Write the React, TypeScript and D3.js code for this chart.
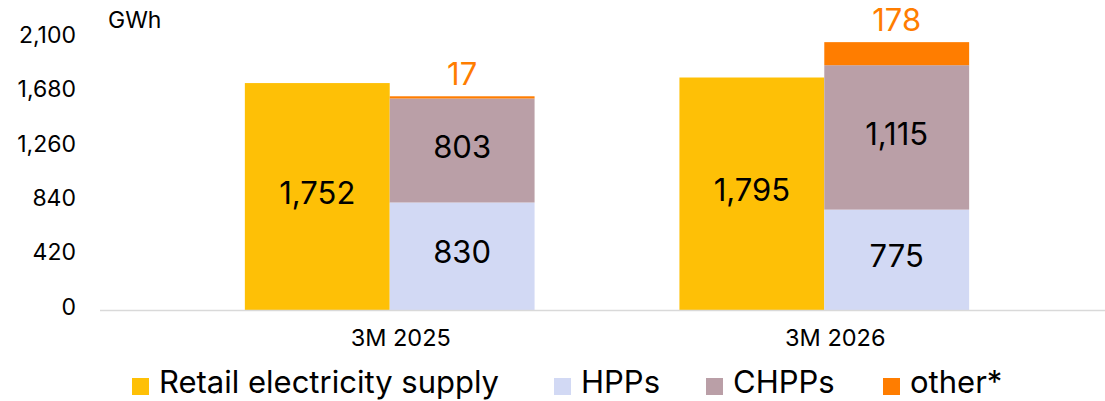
import React from 'react'
import * as d3 from 'd3'

const categories = ['3M 2025', '3M 2026']
const retail = [1752, 1795]
const hpps = [830, 775]
const chpps = [803, 1115]
const other = [17, 178]
const yTicks = [0, 420, 840, 1260, 1680, 2100]

const legendItems = [
    { name: 'Retail electricity supply', color: '#FEC006' },
    { name: 'HPPs', color: '#D2D9F4' },
    { name: 'CHPPs', color: '#BA9FA7' },
    { name: 'other*', color: '#FF7D00' }
]

const W = 1105
const H = 401
const FONT = 'Inter, "Noto Sans", sans-serif'

export default function App() {
    const x = d3.scaleBand<string>().domain(categories).range([100, 1114]).paddingInner(1 / 3).paddingOuter(1 / 3)
    const sub = d3.scaleBand<string>().domain(['retail', 'stack']).range([0, x.bandwidth()])
    const y = d3.scaleLinear().domain([0, 2100]).range([310, 38])
    const fmt = d3.format(',')

    const stackRows = categories.map((c, i) => ({ cat: c, hpps: hpps[i], chpps: chpps[i], other: other[i] }))
    const series = d3.stack<any>().keys(['hpps', 'chpps', 'other'])(stackRows)
    const stackColors: Record<string, string> = {
        hpps: legendItems[1].color,
        chpps: legendItems[2].color,
        other: legendItems[3].color
    }

    // legend positions, left edge of each swatch
    const legendX = [132, 554, 706, 883]

    return (
        <svg width={W} height={H} style={{ position: 'absolute', left: 0, top: 0 }} fontFamily={FONT}>
            <rect width={W} height={H} fill="#fff" />
            <text x={108} y={28} fontSize={23} fill="#000">GWh</text>

            {yTicks.map((t) => (
                <text key={t} x={76} y={y(t) - 3.5} dy="0.36em" textAnchor="end" fontSize={23} fill="#000">
                    {fmt(t)}
                </text>
            ))}

            {categories.map((c, i) => (
                <g key={c} transform={`translate(${x(c)},0)`}>
                    <rect
                        x={sub('retail')}
                        width={sub.bandwidth()}
                        y={y(retail[i])}
                        height={y(0) - y(retail[i])}
                        fill={legendItems[0].color}
                    />
                    <text
                        x={sub('retail')! + sub.bandwidth() / 2}
                        y={(y(0) + y(retail[i])) / 2 - 4}
                        dy="0.36em"
                        textAnchor="middle"
                        fontSize={31}
                        fill="#000"
                    >
                        {fmt(retail[i])}
                    </text>
                    {series.map((s) => {
                        const d = s[i]
                        return (
                            <rect
                                key={s.key}
                                x={sub('stack')}
                                width={sub.bandwidth()}
                                y={y(d[1])}
                                height={y(d[0]) - y(d[1])}
                                fill={stackColors[s.key]}
                            />
                        )
                    })}
                    {series
                        .filter((s) => s.key !== 'other')
                        .map((s) => {
                            const d = s[i]
                            return (
                                <text
                                    key={s.key}
                                    x={sub('stack')! + sub.bandwidth() / 2}
                                    y={(y(d[0]) + y(d[1])) / 2 - 4}
                                    dy="0.36em"
                                    textAnchor="middle"
                                    fontSize={31}
                                    fill="#000"
                                >
                                    {fmt(d[1] - d[0])}
                                </text>
                            )
                        })}
                    <text
                        x={sub('stack')! + sub.bandwidth() / 2}
                        y={y(series[2][i][1]) - 11}
                        textAnchor="middle"
                        fontSize={31}
                        fill="#FF7D00"
                    >
                        {fmt(other[i])}
                    </text>
                    <text
                        x={x.bandwidth() / 2 + 11}
                        y={346}
                        textAnchor="middle"
                        fontSize={23.5}
                        fill="#000"
                    >
                        {c}
                    </text>
                </g>
            ))}

            <line x1={100} x2={W} y1={310.5} y2={310.5} stroke="#d9d9d9" strokeWidth={1.5} />

            {legendItems.map((l, i) => (
                <g key={l.name} transform={`translate(${legendX[i]},0)`}>
                    <rect x={0} y={378} width={17} height={17} fill={l.color} />
                    <text x={27} y={393} fontSize={31} fill="#000">{l.name}</text>
                </g>
            ))}
        </svg>
    )
}
